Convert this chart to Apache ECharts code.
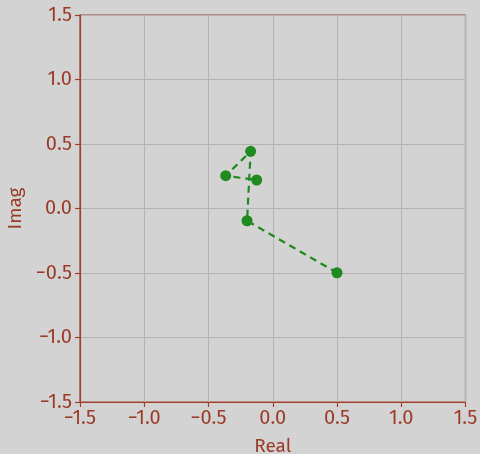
<!DOCTYPE html>
<html><head><meta charset="utf-8">
<script src="https://cdn.jsdelivr.net/npm/echarts@6/dist/echarts.min.js"></script>
<style>html,body{margin:0;padding:0;background:#d3d3d3}#c{width:480px;height:454px}</style>
</head><body><div id="c"></div>
<script>
const realVals = [0.5, -0.2, -0.172, -0.366, -0.125];
const imagVals = [-0.498, -0.095, 0.443, 0.254, 0.221];
const xTitle = 'Real';
const yTitle = 'Imag';
const axisColor = '#a0412d';
const labelColor = '#9a3b27';
const fontFam = '"Fira Sans", "Open Sans", "Noto Sans", sans-serif';
const pts = realVals.map((x, i) => [x, imagVals[i]]);
const chart = echarts.init(document.getElementById('c'));
const axisCommon = {
  type: 'value', min: -1.5, max: 1.5, interval: 0.5,
  axisLine: {show: true, onZero: false, lineStyle: {color: axisColor, width: 1.2}},
  axisTick: {show: true, length: 5, lineStyle: {color: axisColor, width: 1.2}},
  axisLabel: {color: labelColor, fontSize: 20, fontFamily: fontFam,
    formatter: v => (v < 0 ? '\u2212' : '') + Math.abs(v).toFixed(1)},
  splitLine: {show: true, lineStyle: {color: '#b3b3b3', width: 1}},
  nameLocation: 'middle',
  nameTextStyle: {color: labelColor, fontSize: 19, fontFamily: fontFam}
};
chart.setOption({
  backgroundColor: '#d3d3d3',
  animation: false,
  grid: {left: 80, right: 14.5, top: 15, bottom: 52, containLabel: false, outerBoundsMode: 'none',
    show: true, borderColor: axisColor, borderWidth: 1.2, backgroundColor: 'transparent'},
  xAxis: Object.assign({}, axisCommon, {name: xTitle, nameGap: 35, axisLabel: Object.assign({}, axisCommon.axisLabel, {margin: 6})}),
  yAxis: Object.assign({}, axisCommon, {name: yTitle, nameGap: 54, axisLabel: Object.assign({}, axisCommon.axisLabel, {margin: 8})}),
  series: [{
    type: 'line', data: pts, symbol: 'circle', symbolSize: 11,
    itemStyle: {color: '#1f8a1f'},
    lineStyle: {color: '#1f8a1f', width: 2.2, type: [7, 5]}
  }]
});
</script></body></html>
